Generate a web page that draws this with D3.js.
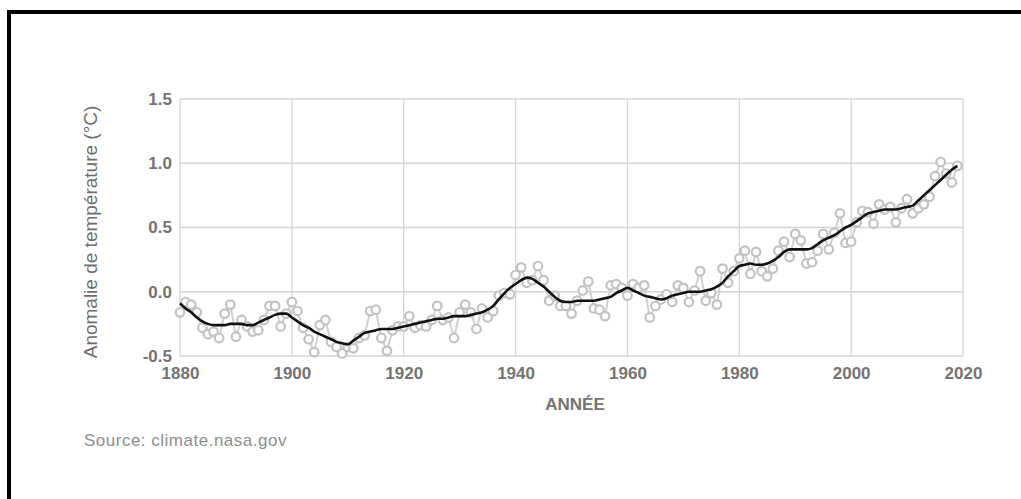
<!DOCTYPE html>
<html>
<head>
<meta charset="utf-8">
<script src="https://cdn.jsdelivr.net/npm/d3@7"></script>
<style>
  body { margin: 0; background: #fff; }
  svg { display: block; font-family: "Liberation Sans", Arial, sans-serif; }
</style>
</head>
<body>
<svg id="chart" width="1021" height="499"></svg>
<script>
// Annual mean anomaly (°C), 1880-2019
const years = d3.range(1880, 2020);
const annual = [
  -0.16,-0.08,-0.10,-0.16,-0.28,-0.33,-0.31,-0.36,-0.17,-0.10,
  -0.35,-0.22,-0.27,-0.31,-0.30,-0.22,-0.11,-0.11,-0.27,-0.17,
  -0.08,-0.15,-0.28,-0.37,-0.47,-0.26,-0.22,-0.39,-0.43,-0.48,
  -0.43,-0.44,-0.36,-0.34,-0.15,-0.14,-0.36,-0.46,-0.30,-0.27,
  -0.27,-0.19,-0.28,-0.26,-0.27,-0.22,-0.11,-0.22,-0.20,-0.36,
  -0.16,-0.10,-0.16,-0.29,-0.13,-0.20,-0.15,-0.03,-0.01,-0.02,
   0.13, 0.19, 0.07, 0.09, 0.20, 0.09,-0.07,-0.03,-0.11,-0.11,
  -0.17,-0.07, 0.01, 0.08,-0.13,-0.14,-0.19, 0.05, 0.06, 0.03,
  -0.03, 0.06, 0.03, 0.05,-0.20,-0.11,-0.06,-0.02,-0.08, 0.05,
   0.03,-0.08, 0.01, 0.16,-0.07,-0.01,-0.10, 0.18, 0.07, 0.16,
   0.26, 0.32, 0.14, 0.31, 0.16, 0.12, 0.18, 0.32, 0.39, 0.27,
   0.45, 0.40, 0.22, 0.23, 0.32, 0.45, 0.33, 0.46, 0.61, 0.38,
   0.39, 0.54, 0.63, 0.62, 0.53, 0.68, 0.64, 0.66, 0.54, 0.65,
   0.72, 0.61, 0.65, 0.68, 0.74, 0.90, 1.01, 0.92, 0.85, 0.98
];
// Smoothed (lowess) curve
const smooth = [
  -0.09,-0.13,-0.16,-0.20,-0.23,-0.25,-0.26,-0.26,-0.26,-0.25,
  -0.25,-0.25,-0.26,-0.26,-0.24,-0.22,-0.20,-0.18,-0.17,-0.17,
  -0.20,-0.23,-0.26,-0.28,-0.31,-0.33,-0.35,-0.37,-0.39,-0.40,
  -0.41,-0.38,-0.35,-0.32,-0.31,-0.30,-0.29,-0.29,-0.29,-0.28,
  -0.27,-0.26,-0.25,-0.24,-0.23,-0.22,-0.21,-0.21,-0.20,-0.19,
  -0.19,-0.19,-0.18,-0.17,-0.16,-0.14,-0.11,-0.06,-0.01, 0.03,
   0.06, 0.09, 0.11, 0.10, 0.07, 0.04, 0.00,-0.04,-0.07,-0.08,
  -0.08,-0.07,-0.07,-0.07,-0.07,-0.06,-0.05,-0.04,-0.01, 0.01,
   0.03, 0.01,-0.01,-0.03,-0.04,-0.05,-0.06,-0.05,-0.03,-0.02,
  -0.01, 0.00, 0.00, 0.00, 0.01, 0.02, 0.04, 0.07, 0.12, 0.16,
   0.20, 0.21, 0.22, 0.21, 0.21, 0.22, 0.24, 0.27, 0.31, 0.33,
   0.33, 0.33, 0.33, 0.34, 0.37, 0.40, 0.42, 0.44, 0.47, 0.50,
   0.52, 0.55, 0.58, 0.61, 0.62, 0.63, 0.64, 0.64, 0.64, 0.65,
   0.66, 0.67, 0.71, 0.75, 0.79, 0.83, 0.87, 0.91, 0.95, 0.98
];
const xTicks = [1880, 1900, 1920, 1940, 1960, 1980, 2000, 2020];
const yTicks = [-0.5, 0.0, 0.5, 1.0, 1.5];

const svg = d3.select("#chart");

// outer frame (right and bottom edges fall outside the picture)
svg.append("rect")
    .attr("x", 9).attr("y", 12)
    .attr("width", 1030).attr("height", 520)
    .attr("fill", "none")
    .attr("stroke", "#000")
    .attr("stroke-width", 4);

const x = d3.scaleLinear().domain([1880, 2020]).range([180, 963]);
const y = d3.scaleLinear().domain([-0.5, 1.5]).range([356, 99]);

// grid
const grid = svg.append("g").attr("stroke", "#d4d4d4").attr("stroke-width", 1.3);
grid.selectAll(".vg").data(xTicks).enter().append("line")
    .attr("x1", d => x(d)).attr("x2", d => x(d))
    .attr("y1", y(1.5)).attr("y2", y(-0.5));
grid.selectAll(".hg").data(yTicks).enter().append("line")
    .attr("x1", x(1880)).attr("x2", x(2020))
    .attr("y1", d => y(d)).attr("y2", d => y(d));

// axes (tick labels only)
const xAxis = svg.append("g")
    .attr("transform", `translate(0,${y(-0.5)})`)
    .call(d3.axisBottom(x).tickValues(xTicks).tickFormat(d3.format("d")).tickSize(0).tickPadding(11));
xAxis.select(".domain").remove();
xAxis.selectAll("text").attr("fill", "#747474")
    .style("font-size", "17px").style("font-weight", "bold");

const yAxis = svg.append("g")
    .attr("transform", `translate(${x(1880)},0)`)
    .call(d3.axisLeft(y).tickValues(yTicks).tickSize(0).tickPadding(8));
yAxis.select(".domain").remove();
yAxis.selectAll("text").attr("fill", "#747474")
    .style("font-size", "17px").style("font-weight", "bold")
    .text(d => d3.format(".1f")(d).replace("−", "-"));

// annual points, connected
const data = years.map((yr, i) => ({ year: yr, v: annual[i], s: smooth[i] }));

svg.append("path")
    .datum(data)
    .attr("fill", "none")
    .attr("stroke", "#d0d0d0")
    .attr("stroke-width", 2)
    .attr("d", d3.line().x(d => x(d.year)).y(d => y(d.v)));

svg.selectAll(".pt").data(data).enter().append("circle")
    .attr("cx", d => x(d.year))
    .attr("cy", d => y(d.v))
    .attr("r", 4.3)
    .attr("fill", "#fff")
    .attr("stroke", "#c2c2c2")
    .attr("stroke-width", 2.2);

// smoothed line
svg.append("path")
    .datum(data)
    .attr("fill", "none")
    .attr("stroke", "#111")
    .attr("stroke-width", 2.6)
    .attr("stroke-linejoin", "round")
    .attr("d", d3.line().curve(d3.curveMonotoneX).x(d => x(d.year)).y(d => y(d.s)));

// axis titles and source
svg.append("text")
    .attr("x", 575).attr("y", 410)
    .attr("text-anchor", "middle")
    .attr("fill", "#747474")
    .style("font-size", "17px").style("font-weight", "bold")
    .text("ANNÉE");

svg.append("text")
    .attr("transform", "translate(97,232) rotate(-90)")
    .attr("text-anchor", "middle")
    .attr("fill", "#6e6e6e")
    .style("font-size", "19px")
    .text("Anomalie de température (°C)");

svg.append("text")
    .attr("x", 84).attr("y", 446)
    .attr("fill", "#8e8e8e")
    .style("font-size", "17px")
    .style("letter-spacing", "0.5px")
    .text("Source: climate.nasa.gov");
</script>
</body>
</html>
